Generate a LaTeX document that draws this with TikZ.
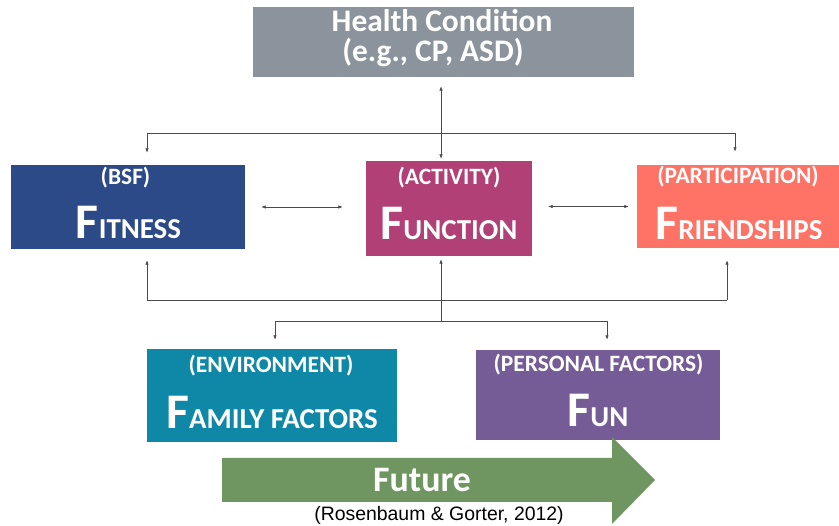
\documentclass[tikz,border=0pt]{standalone}
\usepackage{fontspec}
\setmainfont{Carlito}
\newfontfamily\citefont{Liberation Sans}
\usetikzlibrary{arrows.meta}

\definecolor{healthgray}{HTML}{8B949C}
\definecolor{fitnessblue}{HTML}{2C4988}
\definecolor{functionpink}{HTML}{B04076}
\definecolor{friendsalmon}{HTML}{FF7366}
\definecolor{familyteal}{HTML}{0F88A8}
\definecolor{funpurple}{HTML}{755C97}
\definecolor{futuregreen}{HTML}{6F9560}
\definecolor{linkgray}{HTML}{4A4A4A}

\newcommand{\bigword}[2]{{\fontsize{50}{50}\selectfont #1}{\fontsize{29}{29}\selectfont #2}}
\newcommand{\smalltag}[1]{{\fontsize{23.5}{23.5}\selectfont #1}}

\tikzset{
  fbox/.style={rectangle,inner sep=0pt,minimum width=#1},
  tag/.style={anchor=base,text=white,font=\bfseries},
  link/.style={draw=linkgray,line width=0.7bp},
}

\begin{document}
\begin{tikzpicture}[>={Latex[length=4.5bp,width=3.5bp]},line join=bevel,]
    \useasboundingbox (0bp,0bp) rectangle (839bp,526bp);
    %% boxes
    \node (health) at (443.5bp,484.0bp) [fbox=381bp,minimum height=70bp,fill=healthgray] {};
    \node (fitness) at (128.0bp,319.0bp) [fbox=234bp,minimum height=84bp,fill=fitnessblue] {};
    \node (function) at (449.0bp,317.5bp) [fbox=166bp,minimum height=95bp,fill=functionpink] {};
    \node (friendships) at (738.0bp,319.5bp) [fbox=202bp,minimum height=83bp,fill=friendsalmon] {};
    \node (family) at (272.0bp,130.5bp) [fbox=250bp,minimum height=93bp,fill=familyteal] {};
    \node (fun) at (598.0bp,131.0bp) [fbox=244bp,minimum height=90bp,fill=funpurple] {};
    %% texts
    \node (health-t1) at (442.0bp,494.0bp) [tag,inner ysep=1bp] {\fontsize{31.5}{31.5}\selectfont Health Condition};
    \node (health-t2) at (433.0bp,464.0bp) [tag,inner ysep=1bp] {\fontsize{31.5}{31.5}\selectfont (e.g., CP, ASD)};
    \node (fitness-tag) at (125.5bp,341.0bp) [tag] {\smalltag{(BSF)}};
    \node (fitness-txt) at (128.5bp,287.0bp) [tag] {\bigword{F}{ITNESS}};
    \node (function-tag) at (449.0bp,341.0bp) [tag] {\smalltag{(ACTIVITY)}};
    \node (function-txt) at (449.0bp,286.0bp) [tag] {\bigword{F}{UNCTION}};
    \node (friendships-tag) at (738.0bp,342.0bp) [tag] {\smalltag{(PARTICIPATION)}};
    \node (friendships-txt) at (739.0bp,286.0bp) [tag] {\bigword{F}{RIENDSHIPS}};
    \node (family-tag) at (271.0bp,153.0bp) [tag] {\smalltag{(ENVIRONMENT)}};
    \node (family-txt) at (272.0bp,97.0bp) [tag] {\bigword{F}{AMILY FACTORS}};
    \node (fun-tag) at (598.5bp,154.0bp) [tag] {\smalltag{(PERSONAL FACTORS)}};
    \node (fun-txt) at (598.0bp,99.0bp) [tag] {\bigword{F}{UN}};
    %% future arrow
    \fill [futuregreen] (222bp,68bp) -- (612bp,68bp) -- (612bp,89bp) -- (655bp,46bp)
        -- (612bp,2bp) -- (612bp,24bp) -- (222bp,24bp) -- cycle;
    \node (future) at (422.0bp,35.0bp) [tag] {\fontsize{36}{36}\selectfont Future};
    \node (source) at (439.0bp,6.0bp) [anchor=base] {\citefont\fontsize{19.5}{19.5}\selectfont (Rosenbaum \& Gorter, 2012)};
    %% bus points
    \coordinate (tb) at (441bp,393bp);
    \coordinate (tbl) at (147bp,393bp);
    \coordinate (tbr) at (735bp,393bp);
    \coordinate (bb) at (441bp,226bp);
    \coordinate (bbl) at (147bp,226bp);
    \coordinate (bbr) at (727bp,226bp);
    \coordinate (lb) at (441bp,205bp);
    \coordinate (lbl) at (275bp,205bp);
    \coordinate (lbr) at (607bp,205bp);
    %% connectors
    \draw [link,<->,shorten <=9bp,shorten >=2bp] (health.south -| tb) -- (function.north -| tb);
    \draw [link] (tbl) -- (tbr);
    \draw [link,->,shorten >=12bp] (tbl) -- (tbl |- fitness.north);
    \draw [link,->,shorten >=13bp] (tbr) -- (tbr |- friendships.north);
    \draw [link,<->,shorten <=16bp,shorten >=23bp] (fitness.east) -- (fitness.east -| function.west);
    \draw [link,<->,shorten <=16bp,shorten >=8bp] (function.east |- friendships.west) -- (friendships.west);
    \draw [link] (bbl) -- (bbr);
    \draw [link,->,shorten >=11bp] (bbl) -- (bbl |- fitness.south);
    \draw [link,->,shorten >=12bp] (bbr) -- (bbr |- friendships.south);
    \draw [link,->,shorten >=3bp] (lb) -- (lb |- function.south);
    \draw [link] (lbl) -- (lbr);
    \draw [link,->,shorten >=9bp] (lbl) -- (lbl |- family.north);
    \draw [link,->,shorten >=10bp] (lbr) -- (lbr |- fun.north);
    %
\end{tikzpicture}
\end{document}
